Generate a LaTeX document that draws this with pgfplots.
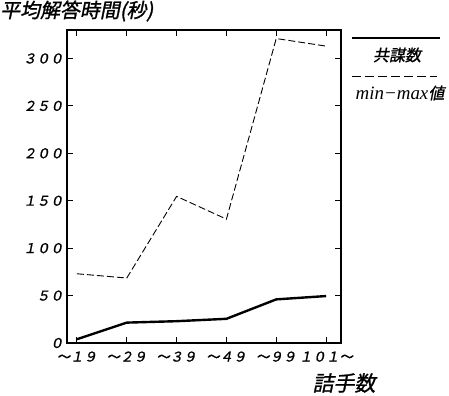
\documentclass[border=0pt]{standalone}
\usepackage{pgfplots}
\pgfplotsset{compat=1.18}
\usepackage{fontspec}
\setmainfont{Liberation Serif}
\newfontfamily\cjk[FakeSlant=0.2,FakeBold=1.2]{Noto Sans CJK JP}
\begin{document}
\begin{tikzpicture}[x=1bp,y=1bp]
\useasboundingbox (-67,-52) rectangle (382,343);
\begin{axis}[at={(0,0)}, anchor=south west, scale only axis,
 width=274bp, height=313bp,
 xmin=-0.2, xmax=5.3, ymin=0, ymax=330,
 xtick={0,1,2,3,4,5},
 xticklabels={～１９,～２９,～３９,～４９,～９９,１０１～},
 ytick={0,50,100,150,200,250,300},
 yticklabels={０,５０,１００,１５０,２００,２５０,３００},
 tick label style={font=\cjk\fontsize{13.5}{13.5}\selectfont},
 xticklabel style={yshift=-5bp},
 major tick length=6bp,
 axis line style={line width=1.2bp},
 every tick/.style={black, line width=1bp},
 ]
\addplot[black, line width=2.4bp] coordinates {(0,4) (1,21.5) (2,23) (3,25.5) (4,46) (5,49.5)};
\addplot[black, line width=0.9bp, dash pattern=on 7bp off 3bp] coordinates {(0,73) (1,68.5) (2,154.6) (3,130.6) (4,321) (5,313)};
\end{axis}
\node[anchor=west, inner sep=0, font=\cjk\fontsize{20}{20}\selectfont] at (-67,332) {平均解答時間(秒)};
\node[font=\cjk\fontsize{21}{21}\selectfont] at (277,-40) {詰手数};
\draw[line width=2bp] (285,305) -- (373,305);
\node[font=\cjk\fontsize{16}{16}\selectfont] at (330,288) {共謀数};
\draw[line width=0.9bp, dash pattern=on 9bp off 4bp] (285,267) -- (370,267);
\node at (333,250) {\itshape\fontsize{19}{19}\selectfont min−max\cjk\fontsize{16}{16}\selectfont 値};
\end{tikzpicture}
\end{document}
